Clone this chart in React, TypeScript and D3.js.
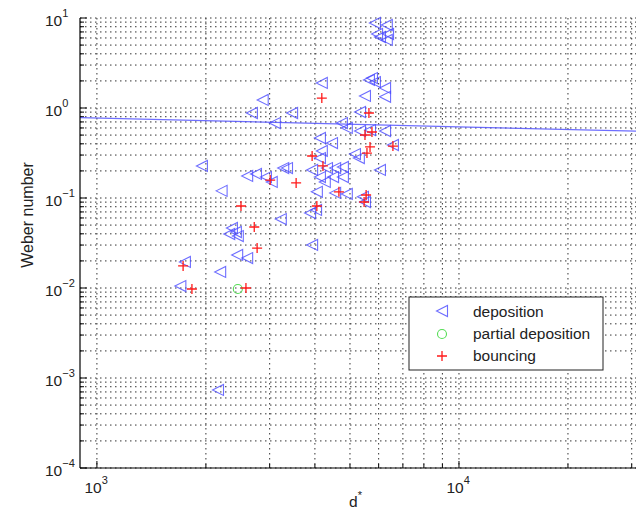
import React from "react";
import * as d3 from "d3";

// deposition (left triangles)
const depX = [5860, 6320, 5940, 6370, 6320, 6050, 5640, 5750, 5860, 6250, 6250, 5500, 4180, 2870, 2680, 3460, 3100, 5330, 4750, 4900, 5330, 5680, 6250, 6570, 4130, 4460, 4180, 4130, 5160, 5290, 6050, 3270, 3350, 3930, 4320, 4550, 4780, 4130, 4490, 4780, 1950, 2600, 2750, 2930, 3040, 2210, 4260, 4050, 4550, 4900, 5430, 5500, 3220, 3880, 4030, 2360, 2420, 2320, 2450, 3930, 2440, 2600, 2190, 1750, 1700, 2160];
const depY = [8.8, 8.36, 6.64, 6.64, 5.7, 6.15, 2.05, 2.15, 1.94, 1.67, 1.33, 1.36, 1.9, 1.23, 0.88, 0.88, 0.681, 0.903, 0.681, 0.6, 0.555, 0.569, 0.555, 0.388, 0.464, 0.408, 0.333, 0.278, 0.308, 0.278, 0.205, 0.215, 0.215, 0.205, 0.215, 0.215, 0.221, 0.171, 0.171, 0.171, 0.227, 0.176, 0.185, 0.171, 0.151, 0.12, 0.151, 0.117, 0.114, 0.111, 0.103, 0.0903, 0.0584, 0.0681, 0.0736, 0.0464, 0.0419, 0.0398, 0.0378, 0.0301, 0.0233, 0.0215, 0.0151, 0.0195, 0.0105, 0.000736];

// partial deposition (circles)
const partX = [2450];
const partY = [0.00975];

// bouncing (plus)
const bouX = [4180, 5640, 5500, 5750, 5680, 5570, 6570, 3930, 4210, 3010, 3550, 4660, 5540, 5470, 4050, 2500, 2720, 2770, 1730, 1830, 2580];
const bouY = [1.29, 0.88, 0.501, 0.541, 0.369, 0.316, 0.378, 0.293, 0.227, 0.158, 0.147, 0.117, 0.108, 0.0903, 0.0815, 0.0815, 0.0476, 0.0278, 0.0176, 0.00975, 0.01];

// fitted line end points
const fitX = [898, 31623];
const fitY = [0.78, 0.552];

const xTickExps = [3, 4];
const yTickExps = [1, 0, -1, -2, -3, -4];
const legendLabels = ["deposition", "partial deposition", "bouncing"];

const FONT = "'Liberation Sans', Arial, Helvetica, sans-serif";

export default function App() {
  const W = 636, H = 518;
  const L = 80, R = 640, T = 18, B = 468;
  const x = d3.scaleLog().domain([898, 31623]).range([L, R]);
  const y = d3.scaleLog().domain([1e-4, 10]).range([B, T]);

  const xGrid = x.ticks().filter((v) => v > 905 && v <= 31623);
  const yGrid = y.ticks();
  const isMajor = (v: number) => Math.abs(Math.log10(v) - Math.round(Math.log10(v))) < 1e-6;

  const tri = (cx: number, cy: number, s = 5.5) =>
    `M${cx - s},${cy}L${cx + s},${cy - s}L${cx + s},${cy + s}Z`;
  const plus = (cx: number, cy: number, s = 5) =>
    `M${cx - s},${cy}H${cx + s}M${cx},${cy - s}V${cy + s}`;

  const line = d3
    .line<number>()
    .x((_, i) => x(fitX[i]))
    .y((d) => y(d));

  const blue = "#4a4aff";
  const red = "#ff1a1a";
  const green = "#55dd55";

  const lgX = 409, lgY = 297, lgW = 194, lgH = 73;

  return (
    <svg width={W} height={H} style={{ position: "absolute", left: 0, top: 0, background: "#fff" }} fontFamily={FONT}>
      <rect x={0} y={0} width={W} height={H} fill="#fff" />
      <defs>
        <clipPath id="plotclip">
          <rect x={L} y={T - 6} width={R - L} height={B - T + 6} />
        </clipPath>
      </defs>
      {/* grid */}
      <g stroke="#333" strokeWidth={1} strokeDasharray="1.5,3.5">
        {xGrid.map((v, i) => (
          <line key={"gx" + i} x1={x(v)} x2={x(v)} y1={T} y2={B} />
        ))}
        {yGrid.map((v, i) => (
          <line key={"gy" + i} x1={L} x2={W} y1={y(v)} y2={y(v)} />
        ))}
      </g>
      {/* ticks */}
      <g stroke="#000" strokeWidth={1}>
        {xGrid.map((v, i) => (
          <line key={"tx" + i} x1={x(v)} x2={x(v)} y1={B} y2={B - (isMajor(v) ? 7 : 4)} />
        ))}
        {yGrid.map((v, i) => (
          <line key={"ty" + i} x1={L} x2={L + (isMajor(v) ? 7 : 4)} y1={y(v)} y2={y(v)} />
        ))}
      </g>
      {/* data */}
      <g clipPath="url(#plotclip)">
        {depX.map((v, i) => (
          <path key={"d" + i} d={tri(x(v), y(depY[i]))} fill="none" stroke={blue} strokeWidth={1.1} strokeOpacity={0.8} />
        ))}
        {partX.map((v, i) => (
          <circle key={"p" + i} cx={x(v)} cy={y(partY[i])} r={4.5} fill="none" stroke={green} strokeWidth={1.1} />
        ))}
        {bouX.map((v, i) => (
          <path key={"b" + i} d={plus(x(v), y(bouY[i]))} fill="none" stroke={red} strokeWidth={1.3} />
        ))}
        <path d={line(fitY) || ""} fill="none" stroke={blue} strokeWidth={1.2} strokeOpacity={0.8} />
      </g>
      {/* axes lines */}
      <line x1={L} x2={L} y1={T} y2={B} stroke="#000" strokeWidth={1.2} />
      <line x1={L} x2={W} y1={B} y2={B} stroke="#000" strokeWidth={1.2} />
      {/* tick labels */}
      <g fontSize={15.5} fill="#222">
        {xTickExps.map((e) => (
          <text key={"xl" + e} x={x(Math.pow(10, e)) - 12.5} y={493}>
            <tspan>10</tspan>
            <tspan dy={-9} fontSize={11}>{e}</tspan>
          </text>
        ))}
        {yTickExps.map((e) => (
          <text key={"yl" + e} x={45} y={y(Math.pow(10, e)) + 8}>
            <tspan>10</tspan>
            <tspan dy={-9} fontSize={11}>{e < 0 ? "\u2212" + Math.abs(e) : e}</tspan>
          </text>
        ))}
      </g>
      {/* axis labels */}
      <text x={349} y={507} fontSize={15.5} fill="#222">
        <tspan>d</tspan>
        <tspan dy={-8} fontSize={11}>*</tspan>
      </text>
      <text transform={`translate(33,${(T + B) / 2 - 28}) rotate(-90)`} textAnchor="middle" fontSize={16} fill="#222">
        Weber number
      </text>
      {/* legend */}
      <g>
        <rect x={lgX} y={lgY} width={lgW} height={lgH} fill="#fff" stroke="#222" strokeWidth={1} />
        <path d={tri(lgX + 33, lgY + 14)} fill="none" stroke={blue} strokeWidth={1.1} strokeOpacity={0.8} />
        <circle cx={lgX + 33} cy={lgY + 37} r={4.5} fill="none" stroke={green} strokeWidth={1.1} />
        <path d={plus(lgX + 33, lgY + 59)} fill="none" stroke={red} strokeWidth={1.3} />
        {legendLabels.map((t, i) => (
          <text key={t} x={lgX + 64} y={lgY + 20 + i * 22} fontSize={15.5} fill="#222">
            {t}
          </text>
        ))}
      </g>
    </svg>
  );
}
